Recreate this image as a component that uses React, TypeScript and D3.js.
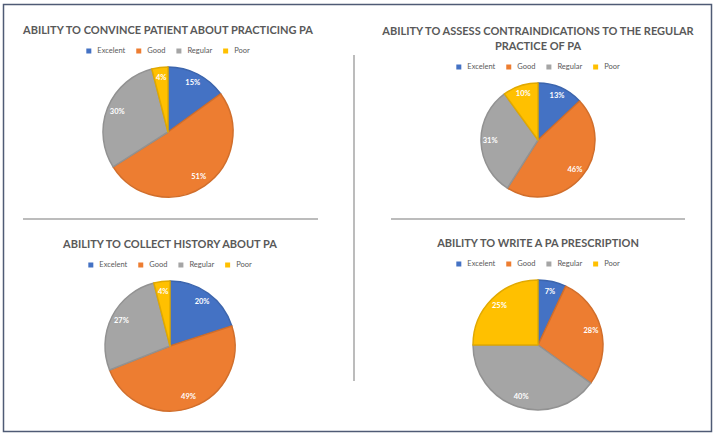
import React, { useRef, useEffect } from 'react';
import * as d3 from 'd3';

const categories = ['Excelent', 'Good', 'Regular', 'Poor'];
const colors = ['#4472C4', '#ED7D31', '#A5A5A5', '#FFC000'];

const convinceValues = [15, 51, 30, 4];
const contraValues = [13, 46, 31, 10];
const historyValues = [20, 49, 27, 4];
const prescriptionValues = [7, 28, 40, 25];

const convinceTitle = ['ABILITY TO CONVINCE PATIENT ABOUT PRACTICING PA'];
const contraTitle = ['ABILITY TO ASSESS CONTRAINDICATIONS TO THE REGULAR', 'PRACTICE OF PA'];
const historyTitle = ['ABILITY TO COLLECT HISTORY ABOUT PA'];
const prescriptionTitle = ['ABILITY TO WRITE A PA PRESCRIPTION'];

interface Panel {
  title: string[];
  values: number[];
  cx: number;
  cy: number;
  r: number;
  titleY: number;
  legendY: number;
}

const panels: Panel[] = [
  { title: convinceTitle, values: convinceValues, cx: 168, cy: 132, r: 65, titleY: 31, legendY: 51 },
  { title: contraTitle, values: contraValues, cx: 538, cy: 140, r: 57, titleY: 32, legendY: 67 },
  { title: historyTitle, values: historyValues, cx: 170, cy: 346, r: 65, titleY: 245, legendY: 265 },
  { title: prescriptionTitle, values: prescriptionValues, cx: 538, cy: 345, r: 65, titleY: 244, legendY: 264 },
];

const W = 717;
const H = 437;

const App: React.FC = () => {
  const svgRef = useRef<SVGSVGElement>(null);

  useEffect(() => {
    if (!svgRef.current) return;
    const svg = d3.select(svgRef.current);
    svg.selectAll('*').remove();

    svg.append('rect').attr('width', W).attr('height', H).attr('fill', '#fff');

    // outer frame
    svg.append('rect')
      .attr('x', 3.5).attr('y', 4.5).attr('width', 708).attr('height', 427)
      .attr('fill', 'none').attr('stroke', '#4f5b75').attr('stroke-width', 1.5);

    // dividers
    const div = svg.append('g').attr('stroke', '#a6a6a6').attr('stroke-width', 1.5);
    div.append('line').attr('x1', 354).attr('x2', 354).attr('y1', 55).attr('y2', 381);
    div.append('line').attr('x1', 23).attr('x2', 318).attr('y1', 219).attr('y2', 219);
    div.append('line').attr('x1', 391).attr('x2', 685).attr('y1', 219).attr('y2', 219);

    const pie = d3.pie<number>().sort(null).value((d) => d);

    panels.forEach((p) => {
      const g = svg.append('g');

      // title
      p.title.forEach((line, i) => {
        g.append('text')
          .attr('x', p.cx)
          .attr('y', p.titleY + i * 15)
          .attr('text-anchor', 'middle')
          .attr('dominant-baseline', 'middle')
          .attr('font-family', 'Lato, sans-serif')
          .attr('font-weight', 'bold')
          .attr('font-size', '11px')
          .attr('fill', '#595959')
          .text(line);
      });

      // legend
      const leg = g.append('g');
      let x = 0;
      categories.forEach((c, i) => {
        leg.append('rect')
          .attr('x', x).attr('y', p.legendY - 2.5)
          .attr('width', 5).attr('height', 5)
          .attr('fill', colors[i]);
        const t = leg.append('text')
          .attr('x', x + 11)
          .attr('y', p.legendY)
          .attr('dominant-baseline', 'middle')
          .attr('font-family', 'Lato, sans-serif')
          .attr('font-size', '7.5px')
          .attr('fill', '#595959')
          .text(c);
        const w = (t.node() as SVGTextElement).getComputedTextLength();
        x += 11 + w + 11;
      });
      const total = x - 11;
      leg.attr('transform', `translate(${p.cx - total / 2}, 0)`);

      // pie
      const arc = d3.arc<d3.PieArcDatum<number>>().innerRadius(0).outerRadius(p.r);
      const labelArc = d3.arc<d3.PieArcDatum<number>>().innerRadius(p.r * 0.84).outerRadius(p.r * 0.84);
      const arcs = pie(p.values);
      const pg = g.append('g').attr('transform', `translate(${p.cx}, ${p.cy})`);
      pg.selectAll('path')
        .data(arcs)
        .enter()
        .append('path')
        .attr('d', arc)
        .attr('fill', (d, i) => colors[i])
        .attr('stroke', (d, i) => d3.color(colors[i])!.darker(0.35).toString())
        .attr('stroke-width', 1.5)
        .attr('stroke-linejoin', 'round');
      pg.selectAll('text.lbl')
        .data(arcs)
        .enter()
        .append('text')
        .attr('class', 'lbl')
        .attr('transform', (d) => `translate(${labelArc.centroid(d)})`)
        .attr('text-anchor', 'middle')
        .attr('dominant-baseline', 'middle')
        .attr('font-family', 'Lato, sans-serif')
        .attr('font-weight', 'bold')
        .attr('font-size', '7.5px')
        .attr('fill', '#fff')
        .text((d) => `${d.data}%`);
    });
  }, []);

  return (
    <div style={{ position: 'fixed', left: 0, top: 0 }}>
      <svg ref={svgRef} width={W} height={H} style={{ display: 'block' }} />
    </div>
  );
};

export default App;
